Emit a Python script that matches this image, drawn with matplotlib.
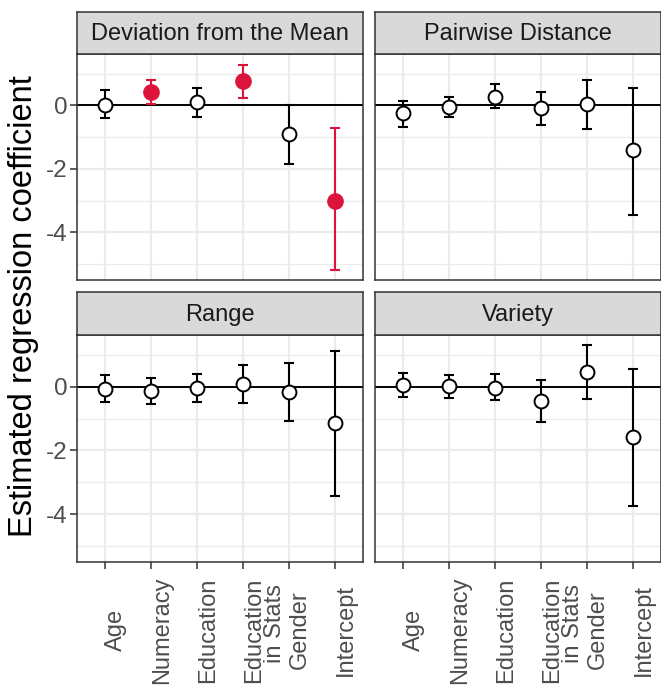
import matplotlib
matplotlib.use("Agg")
import matplotlib.pyplot as plt
import numpy as np

plt.rcParams['font.family'] = ['Liberation Sans', 'DejaVu Sans']
plt.rcParams['axes.unicode_minus'] = False

predictors = ["Age", "Numeracy", "Education", "Education\nin Stats ", "Gender", "Intercept"]
panels = ["Deviation from the Mean", "Pairwise Distance", "Range", "Variety"]

est = {
    "Deviation from the Mean": [0.00, 0.42, 0.10, 0.76, -0.91, -3.01],
    "Pairwise Distance":       [-0.25, -0.04, 0.27, -0.09, 0.03, -1.40],
    "Range":                   [-0.06, -0.14, -0.04, 0.07, -0.16, -1.15],
    "Variety":                 [0.05, 0.02, -0.03, -0.44, 0.45, -1.59],
}
lower = {
    "Deviation from the Mean": [-0.41, 0.04, -0.35, 0.24, -1.84, -5.20],
    "Pairwise Distance":       [-0.67, -0.38, -0.09, -0.61, -0.74, -3.45],
    "Range":                   [-0.49, -0.54, -0.47, -0.50, -1.07, -3.42],
    "Variety":                 [-0.31, -0.36, -0.42, -1.11, -0.40, -3.75],
}
upper = {
    "Deviation from the Mean": [0.48, 0.81, 0.55, 1.26, 0.00, -0.70],
    "Pairwise Distance":       [0.15, 0.27, 0.69, 0.42, 0.79, 0.55],
    "Range":                   [0.36, 0.26, 0.41, 0.68, 0.73, 1.11],
    "Variety":                 [0.42, 0.36, 0.41, 0.21, 1.31, 0.54],
}

W, H = 661, 687
fig = plt.figure(figsize=(W / 100, H / 100), dpi=100)

red = "#DC143C"
lefts = [77, 375]
pw = 286
rows = [(54, 280, 12), (335, 562, 292)]  # panel top, panel bottom, strip top

x = np.arange(1, len(predictors) + 1)

for i, name in enumerate(panels):
    r, c = divmod(i, 2)
    top, bot, stop = rows[r]
    left = lefts[c]
    ax = fig.add_axes([left / W, (H - bot) / H, pw / W, (bot - top) / H])
    sax = fig.add_axes([left / W, (H - top) / H, pw / W, (top - stop) / H])

    # strip
    sax.set_facecolor("#D9D9D9")
    sax.set_xticks([])
    sax.set_yticks([])
    for s in sax.spines.values():
        s.set_color("#333333")
        s.set_linewidth(1.1)
    sax.text(0.5, 0.47, name, ha="center", va="center", fontsize=17,
             color="#1A1A1A", transform=sax.transAxes)

    # panel
    ax.set_xlim(0.4, 6.6)
    ax.set_ylim(-5.5, 1.62)
    ax.set_yticks([-4, -2, 0])
    ax.set_yticks([-5, -3, -1, 1], minor=True)
    ax.set_xticks(x)
    ax.grid(True, which="major", color="#EBEBEB", linewidth=1.6)
    ax.grid(True, which="minor", axis="y", color="#EBEBEB", linewidth=0.9)
    ax.set_axisbelow(True)
    for s in ax.spines.values():
        s.set_color("#333333")
        s.set_linewidth(1.1)
    ax.axhline(0, color="black", linewidth=1.4, zorder=2)

    e = np.array(est[name])
    lo = np.array(lower[name])
    hi = np.array(upper[name])
    sig = (lo > 0) | (hi < 0)
    for j in range(len(x)):
        col = red if sig[j] else "black"
        ax.errorbar(x[j], e[j], yerr=[[e[j] - lo[j]], [hi[j] - e[j]]],
                    fmt="none", ecolor=col, elinewidth=1.5, capsize=3.5,
                    capthick=1.5, zorder=3)
        if sig[j]:
            ax.plot(x[j], e[j], "o", color=red, markersize=11, zorder=4)
        else:
            ax.plot(x[j], e[j], "o", markerfacecolor="white", markeredgecolor="black",
                    markeredgewidth=1.4, markersize=10, zorder=4)

    ax.tick_params(axis="both", which="minor", length=0)
    ax.tick_params(axis="both", which="major", colors="#333333", length=5, width=1.1,
                   labelcolor="#4D4D4D", labelsize=17.5, pad=2)
    ax.tick_params(axis="x", labelbottom=False)
    if c == 1:
        ax.tick_params(axis="y", length=0, labelleft=False)
    if r == 0:
        ax.tick_params(axis="x", length=0)
    else:
        ph = bot - top
        for xi, lab in zip(x, predictors):
            ax.text(xi, -68 / ph, lab, rotation=90, ha="left", va="center",
                    multialignment="right", linespacing=0.95, fontsize=17,
                    color="#4D4D4D", transform=ax.get_xaxis_transform())

fig.text(24 / W, 1 - 306 / H, "Estimated regression coefficient", rotation=90,
         ha="center", va="center", fontsize=23.5, color="black")

fig.savefig("out.png", dpi=100)
